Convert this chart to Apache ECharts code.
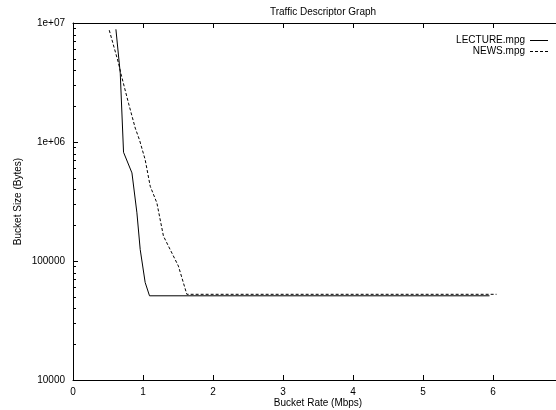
<!DOCTYPE html>
<html>
<head>
<meta charset="utf-8">
<script src="https://cdn.jsdelivr.net/npm/echarts@6/dist/echarts.min.js"></script>
<style>html,body{margin:0;padding:0;background:#fff;}#c{width:556px;height:410px;}</style>
</head>
<body>
<div id="c"></div>
<script>
const titleText = 'Traffic Descriptor Graph';
const xName = 'Bucket Rate (Mbps)';
const yName = 'Bucket Size (Bytes)';
const seriesNames = ['LECTURE.mpg', 'NEWS.mpg'];

const lectureRate = [0.613, 0.675, 0.722, 0.842, 0.913, 0.96, 1.031, 1.093, 5.95];
const lectureSize = [8.85e6, 3.78e6, 8.2e5, 5.5e5, 2.54e5, 1.25e5, 6.6e4, 5.1e4, 5.1e4];

const newsRate = [0.518, 0.65, 0.689, 0.793, 0.889, 0.95, 1.031, 1.103, 1.198, 1.292, 1.506, 1.626, 6.05];
const newsSize = [8.7e6, 4.6e6, 3.66e6, 2.12e6, 1.31e6, 1.04e6, 7.1e5, 4.25e5, 3.08e5, 1.62e5, 9.06e4, 5.25e4, 5.25e4];

const yMinorTicks = [];
for (const d of [1e4, 1e5, 1e6]) { for (let m = 2; m <= 9; m++) yMinorTicks.push(m * d); }

const pairs = (xs, ys) => xs.map((x, i) => [x, ys[i]]);
const FONT = 'Liberation Sans';
const solidIcon = 'path://M0,0H18V1H0Z';
const dashIcon = 'path://M0,0H3V1H0Z M5,0H8V1H5Z M10,0H13V1H10Z M15,0H18V1H15Z';

const chart = echarts.init(document.getElementById('c'), null, {renderer: 'canvas'});
chart.setOption({
  animation: false,
  backgroundColor: '#fff',
  textStyle: {fontFamily: FONT},
  title: {
    text: titleText, left: 318, top: 2, textAlign: 'center',
    textStyle: {fontSize: 10, fontWeight: 'normal', color: '#000', fontFamily: FONT}
  },
  legend: {
    orient: 'vertical', right: 8, top: 35, align: 'right',
    itemWidth: 18, itemHeight: 1, itemGap: 0, padding: 0,
    textStyle: {fontSize: 10, color: '#000', fontFamily: FONT, lineHeight: 11},
    data: [
      {name: seriesNames[0], icon: solidIcon, itemStyle: {color: '#000'}},
      {name: seriesNames[1], icon: dashIcon, itemStyle: {color: '#000'}}
    ]
  },
  grid: {left: 73, top: 23, width: 490, height: 357, containLabel: false, outerBoundsMode: 'none'},
  xAxis: [{
    type: 'value', min: 0, max: 7, interval: 1,
    name: xName, nameLocation: 'middle', nameGap: 18, nameMoveOverlap: false,
    nameTextStyle: {fontSize: 10, color: '#000', fontFamily: FONT},
    axisLine: {show: true, onZero: false, lineStyle: {color: '#000', width: 1}},
    axisTick: {show: true, inside: true, length: 5, lineStyle: {color: '#000'}},
    axisLabel: {fontSize: 10, color: '#000', margin: 7, fontFamily: FONT},
    splitLine: {show: false}
  }, {
    type: 'value', min: 0, max: 7, interval: 1, position: 'top',
    axisLine: {show: true, onZero: false, lineStyle: {color: '#000', width: 1}},
    axisTick: {show: true, inside: true, length: 5, lineStyle: {color: '#000'}},
    axisLabel: {show: false}, splitLine: {show: false}
  }],
  yAxis: [{
    type: 'log', logBase: 10, min: 1e4, max: 1e7,
    name: yName, nameLocation: 'middle', nameGap: 50, nameMoveOverlap: false,
    nameTextStyle: {fontSize: 10, color: '#000', fontFamily: FONT},
    axisLine: {show: true, onZero: false, lineStyle: {color: '#000', width: 1}},
    axisTick: {show: true, inside: true, length: 5, lineStyle: {color: '#000'}},
    axisLabel: {
      fontSize: 10, color: '#000', margin: 8, fontFamily: FONT,
      formatter: v => {
        const e = Math.round(Math.log10(v));
        if (e >= 6) return '1e+0' + e;
        return String(Math.round(v));
      }
    },
    splitLine: {show: false}
  }],
  series: [{
    name: seriesNames[0], type: 'line', xAxisIndex: 0, yAxisIndex: 0,
    data: pairs(lectureRate, lectureSize),
    symbol: 'none', lineStyle: {color: '#000', width: 1, type: 'solid'},
    itemStyle: {color: '#000'}
  }, {
    name: seriesNames[1], type: 'line', xAxisIndex: 0, yAxisIndex: 0,
    data: pairs(newsRate, newsSize),
    symbol: 'none', lineStyle: {color: '#000', width: 1, type: [3, 2]},
    itemStyle: {color: '#000'}
  }, {
    name: 'minorTicks', type: 'custom', xAxisIndex: 0, yAxisIndex: 0,
    silent: true, clip: false, z: 10,
    encode: {x: 0, y: 1},
    data: yMinorTicks.map(v => [0, v]),
    renderItem: (params, api) => {
      const p = api.coord([api.value(0), api.value(1)]);
      const y = Math.round(p[1]) + 0.5;
      return {type: 'line', shape: {x1: p[0], y1: y, x2: p[0] + 3, y2: y},
              style: {stroke: '#000', lineWidth: 1, fill: null}};
    }
  }]
});
</script>
</body>
</html>
